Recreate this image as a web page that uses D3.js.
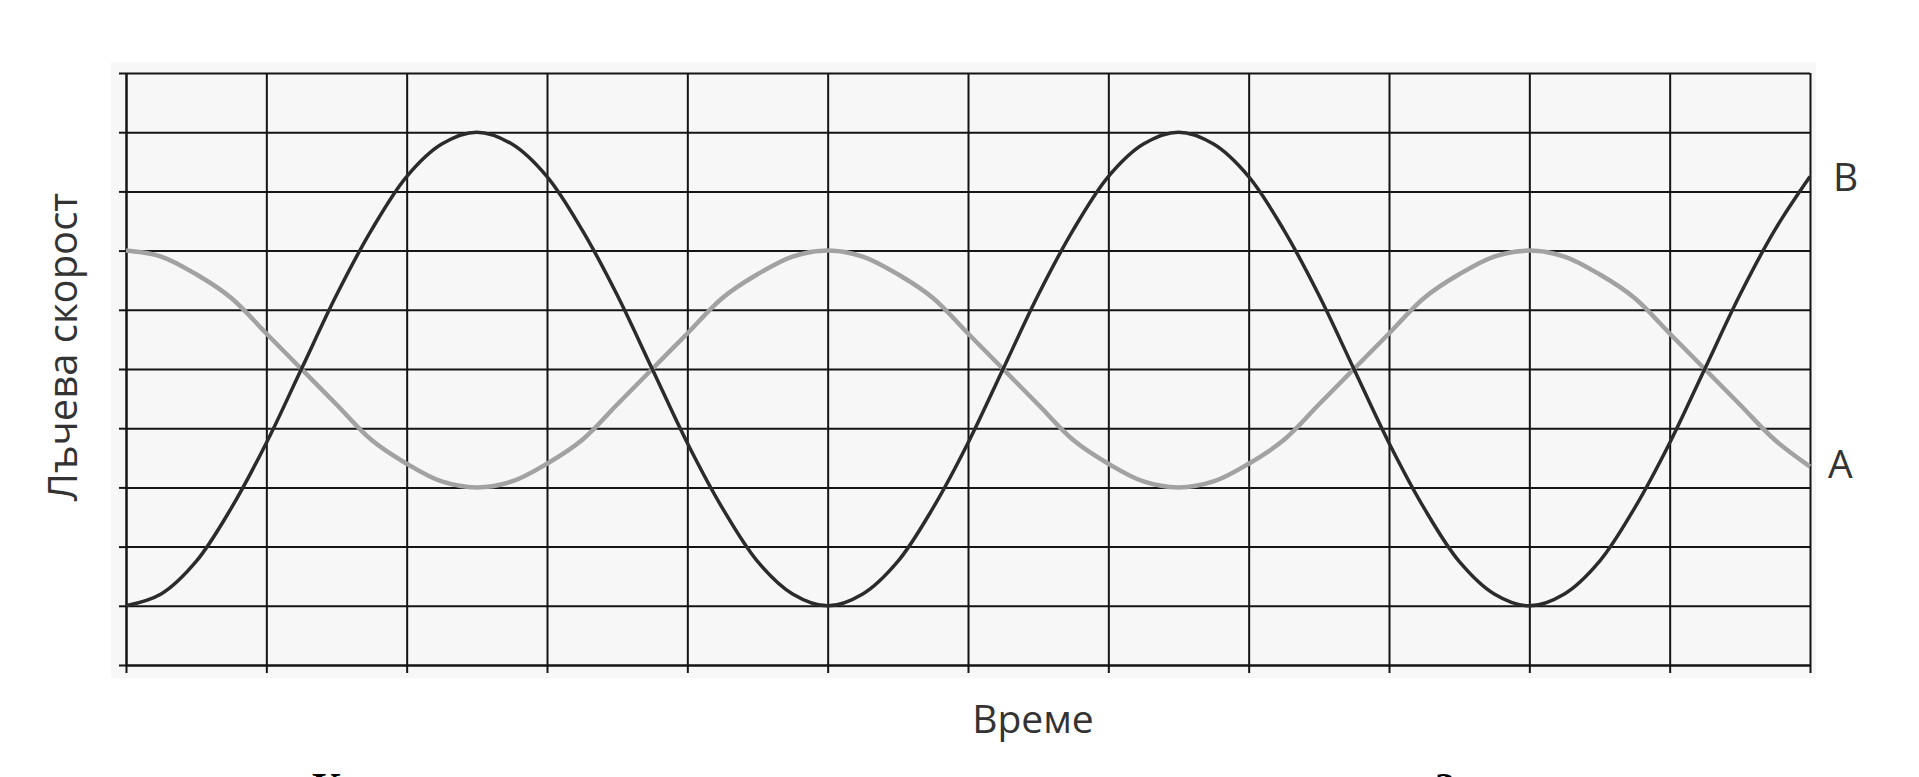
<html>
<head>
    <script src="https://d3js.org/d3.v7.min.js"></script>
    <style>
        body { margin: 0; background: #fff; }
    </style>
</head>
<body>
    <svg id="s" width="1919" height="777"></svg>
    <script>
        // values, in grid units
        const TIME = [0, 0.25, 0.5, 0.75, 1, 1.25, 1.5, 1.75, 2, 2.25, 2.5, 2.75,
                      3, 3.25, 3.5, 3.75, 4, 4.25, 4.5, 4.75, 5, 5.25, 5.5, 5.75,
                      6, 6.25, 6.5, 6.75, 7, 7.25, 7.5, 7.75, 8, 8.25, 8.5, 8.75,
                      9, 9.25, 9.5, 9.75, 10, 10.25, 10.5, 10.75, 11, 11.25, 11.5, 11.75, 12]
        const SERIES_B = [1, 1.2, 1.75, 2.65, 3.75, 5, 6.25, 7.35, 8.25, 8.8, 9, 8.8,
                          8.25, 7.35, 6.25, 5, 3.75, 2.65, 1.75, 1.2, 1, 1.2, 1.75, 2.65,
                          3.75, 5, 6.25, 7.35, 8.25, 8.8, 9, 8.8, 8.25, 7.35, 6.25, 5,
                          3.75, 2.65, 1.75, 1.2, 1, 1.2, 1.75, 2.65, 3.75, 5, 6.25, 7.35, 8.25]
        const SERIES_A = [7, 6.9, 6.6, 6.2, 5.6, 5, 4.4, 3.8, 3.4, 3.1, 3, 3.1,
                          3.4, 3.8, 4.4, 5, 5.6, 6.2, 6.6, 6.9, 7, 6.9, 6.6, 6.2,
                          5.6, 5, 4.4, 3.8, 3.4, 3.1, 3, 3.1, 3.4, 3.8, 4.4, 5,
                          5.6, 6.2, 6.6, 6.9, 7, 6.9, 6.6, 6.2, 5.6, 5, 4.4, 3.8, 3.35]
        const X_TICKS = [0, 1, 2, 3, 4, 5, 6, 7, 8, 9, 10, 11, 12]
        const Y_TICKS = [0, 1, 2, 3, 4, 5, 6, 7, 8, 9, 10]

        const MARGIN = { LEFT: 126, TOP: 73 }
        const WIDTH = 1684
        const HEIGHT = 592
        const FONT = "'Open Sans', 'Noto Sans', sans-serif"

        const svg = d3.select("svg")

        // light panel behind the grid
        svg.append("rect")
            .attr("x", MARGIN.LEFT - 15)
            .attr("y", MARGIN.TOP - 11)
            .attr("width", WIDTH + 21)
            .attr("height", HEIGHT + 24)
            .attr("fill", "#f7f7f7")

        const g = svg.append("g")
            .attr("transform", `translate(${MARGIN.LEFT}, ${MARGIN.TOP})`)

        const x = d3.scaleLinear().domain([0, 12]).range([0, WIDTH])
        const y = d3.scaleLinear().domain([0, 10]).range([HEIGHT, 0])

        // grid
        g.append("g")
            .attr("class", "grid y")
            .call(d3.axisLeft(y).tickValues(Y_TICKS).tickSize(-WIDTH).tickFormat(""))
            .call(s => s.select(".domain").remove())
        g.append("g")
            .attr("class", "grid x")
            .attr("transform", `translate(0, ${HEIGHT})`)
            .call(d3.axisBottom(x).tickValues(X_TICKS).tickSize(-HEIGHT).tickFormat(""))
            .call(s => s.select(".domain").remove())

        // outer ticks
        g.append("g")
            .attr("class", "y axis")
            .call(d3.axisLeft(y).tickValues(Y_TICKS).tickSize(7).tickSizeOuter(0).tickFormat(""))
        g.append("g")
            .attr("class", "x axis")
            .attr("transform", `translate(0, ${HEIGHT})`)
            .call(d3.axisBottom(x).tickValues(X_TICKS).tickSize(8).tickSizeOuter(0).tickFormat(""))

        g.selectAll(".grid line, .axis line, .axis .domain")
            .attr("stroke", "#151515")
            .attr("stroke-width", 2)

        const line = d3.line()
            .x(d => x(d[0]))
            .y(d => y(d[1]))
            .curve(d3.curveCatmullRom.alpha(0.5))

        g.append("path")
            .datum(TIME.map((t, i) => [t, SERIES_A[i]]))
            .attr("fill", "none")
            .attr("stroke", "#a2a2a2")
            .attr("stroke-width", 4.5)
            .attr("d", line)

        g.append("path")
            .datum(TIME.map((t, i) => [t, SERIES_B[i]]))
            .attr("fill", "none")
            .attr("stroke", "#2b2b2b")
            .attr("stroke-width", 3.5)
            .attr("d", line)

        // labels
        svg.append("text")
            .attr("transform", "translate(77, 347) rotate(-90)")
            .attr("font-family", FONT)
            .attr("font-size", "40px")
            .attr("fill", "#333")
            .attr("text-anchor", "middle")
            .text("Лъчева скорост")

        svg.append("text")
            .attr("x", 1033)
            .attr("y", 733)
            .attr("font-family", FONT)
            .attr("font-size", "39px")
            .attr("fill", "#333")
            .attr("text-anchor", "middle")
            .text("Време")

        svg.append("text")
            .attr("x", 1833)
            .attr("y", 191)
            .attr("font-family", FONT)
            .attr("font-size", "39px")
            .attr("fill", "#333")
            .text("B")

        svg.append("text")
            .attr("x", 1828)
            .attr("y", 478)
            .attr("font-family", FONT)
            .attr("font-size", "39px")
            .attr("fill", "#333")
            .text("A")

        // caption line below, cut off by the picture edge as in the source
        svg.append("text")
            .attr("x", 312)
            .attr("y", 800)
            .attr("font-family", "'Liberation Serif', serif")
            .attr("font-weight", "bold")
            .attr("font-size", "40px")
            .attr("fill", "#000")
            .text("К")
        svg.append("text")
            .attr("x", 1435)
            .attr("y", 800)
            .attr("font-family", "'Liberation Serif', serif")
            .attr("font-weight", "bold")
            .attr("font-size", "40px")
            .attr("fill", "#000")
            .text("2")
    </script>
</body>
</html>
